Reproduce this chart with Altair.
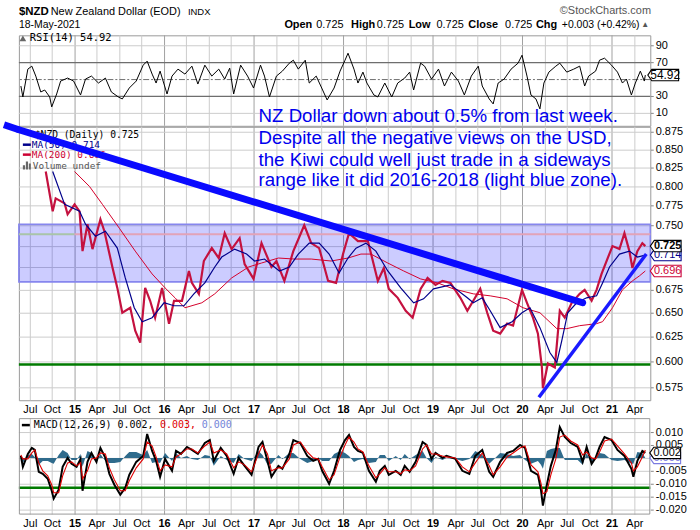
import altair as alt
import pandas as pd

# ---------------- values ----------------
x_ticks = [2014.5, 2014.75, 2015.0, 2015.25, 2015.5, 2015.75, 2016.0, 2016.25, 2016.5, 2016.75,
           2017.0, 2017.25, 2017.5, 2017.75, 2018.0, 2018.25, 2018.5, 2018.75, 2019.0, 2019.25,
           2019.5, 2019.75, 2020.0, 2020.25, 2020.5, 2020.75, 2021.0, 2021.25]
price_ticks = [0.575, 0.600, 0.625, 0.650, 0.675, 0.700, 0.725, 0.750, 0.775, 0.800, 0.825, 0.850, 0.875]
rsi_ticks = [10, 30, 50, 70, 90]
macd_ticks = [-0.020, -0.015, -0.010, -0.005, 0.000, 0.005, 0.010]

price_year = [2014.678, 2014.756, 2014.789, 2014.889, 2014.922, 2015.000, 2015.056, 2015.089, 2015.144, 2015.200,
              2015.289, 2015.333, 2015.422, 2015.478, 2015.533, 2015.622, 2015.678, 2015.733, 2015.789, 2015.844,
              2015.900, 2015.978, 2016.056, 2016.111, 2016.200, 2016.278, 2016.311, 2016.389, 2016.444, 2016.533,
              2016.611, 2016.678, 2016.756, 2016.844, 2016.900, 2017.000, 2017.089, 2017.200, 2017.256, 2017.344,
              2017.444, 2017.567, 2017.644, 2017.733, 2017.833, 2017.922, 2018.000, 2018.067, 2018.167, 2018.278,
              2018.389, 2018.456, 2018.511, 2018.611, 2018.700, 2018.778, 2018.867, 2018.944, 2019.033, 2019.111,
              2019.200, 2019.311, 2019.389, 2019.456, 2019.533, 2019.611, 2019.678, 2019.756, 2019.833, 2019.900,
              2020.000, 2020.056, 2020.122, 2020.178, 2020.222, 2020.233, 2020.289, 2020.367, 2020.422, 2020.478,
              2020.556, 2020.644, 2020.700, 2020.778, 2020.833, 2020.889, 2020.944, 2021.011, 2021.089, 2021.144,
              2021.200, 2021.233, 2021.289, 2021.344, 2021.376]
price_close = [0.820, 0.768, 0.784, 0.778, 0.764, 0.777, 0.768, 0.719, 0.752, 0.722,
               0.758, 0.743, 0.700, 0.677, 0.650, 0.655, 0.631, 0.619, 0.677, 0.663,
               0.645, 0.677, 0.638, 0.663, 0.663, 0.696, 0.682, 0.670, 0.708, 0.723,
               0.711, 0.741, 0.721, 0.735, 0.704, 0.687, 0.729, 0.700, 0.708, 0.685,
               0.719, 0.750, 0.728, 0.723, 0.685, 0.683, 0.716, 0.740, 0.731, 0.731,
               0.685, 0.699, 0.676, 0.666, 0.652, 0.645, 0.676, 0.688, 0.680, 0.685,
               0.683, 0.666, 0.652, 0.663, 0.676, 0.650, 0.631, 0.628, 0.638, 0.636,
               0.675, 0.661, 0.645, 0.628, 0.594, 0.574, 0.598, 0.594, 0.652, 0.645,
               0.660, 0.670, 0.675, 0.663, 0.675, 0.693, 0.708, 0.725, 0.722, 0.740,
               0.719, 0.699, 0.719, 0.728, 0.725]

ma50_year = [2014.756, 2014.889, 2015.056, 2015.122, 2015.233, 2015.344, 2015.478, 2015.567, 2015.667, 2015.756,
             2015.867, 2016.000, 2016.111, 2016.222, 2016.333, 2016.456, 2016.567, 2016.644, 2016.789, 2016.922,
             2017.011, 2017.122, 2017.289, 2017.400, 2017.500, 2017.622, 2017.733, 2017.844, 2017.956, 2018.056,
             2018.144, 2018.256, 2018.367, 2018.500, 2018.644, 2018.789, 2018.900, 2019.011, 2019.200, 2019.389,
             2019.456, 2019.556, 2019.644, 2019.756, 2019.889, 2020.000, 2020.089, 2020.200, 2020.311, 2020.389,
             2020.444, 2020.511, 2020.611, 2020.722, 2020.833, 2020.900, 2020.978, 2021.089, 2021.200, 2021.289,
             2021.376]
ma50_val = [0.820, 0.777, 0.768, 0.752, 0.737, 0.743, 0.723, 0.688, 0.655, 0.640,
            0.645, 0.661, 0.657, 0.657, 0.670, 0.683, 0.700, 0.712, 0.722, 0.716,
            0.708, 0.710, 0.696, 0.700, 0.716, 0.729, 0.729, 0.716, 0.694, 0.711,
            0.723, 0.729, 0.719, 0.696, 0.677, 0.660, 0.665, 0.676, 0.680, 0.666,
            0.661, 0.666, 0.652, 0.634, 0.640, 0.650, 0.655, 0.634, 0.609, 0.599,
            0.621, 0.650, 0.660, 0.666, 0.668, 0.682, 0.700, 0.716, 0.719, 0.712,
            0.714]

ma200_year = [2015.000, 2015.167, 2015.311, 2015.500, 2015.678, 2015.867, 2016.011, 2016.122, 2016.233, 2016.422,
              2016.567, 2016.756, 2016.944, 2017.089, 2017.278, 2017.456, 2017.644, 2017.867, 2018.056, 2018.200,
              2018.311, 2018.500, 2018.678, 2018.867, 2019.056, 2019.233, 2019.456, 2019.644, 2019.833, 2020.011,
              2020.200, 2020.389, 2020.500, 2020.644, 2020.833, 2020.900, 2021.011, 2021.122, 2021.233, 2021.311,
              2021.376]
ma200_val = [0.820, 0.800, 0.777, 0.747, 0.719, 0.693, 0.677, 0.666, 0.655, 0.661,
             0.670, 0.688, 0.700, 0.705, 0.711, 0.710, 0.710, 0.708, 0.711, 0.716,
             0.716, 0.705, 0.696, 0.687, 0.682, 0.676, 0.670, 0.668, 0.665, 0.655,
             0.650, 0.633, 0.633, 0.636, 0.638, 0.640, 0.655, 0.675, 0.685, 0.690,
             0.696]

rsi_year = [2014.398, 2014.423, 2014.473, 2014.522, 2014.572, 2014.622, 2014.671, 2014.721, 2014.746, 2014.795,
            2014.845, 2014.919, 2014.994, 2015.068, 2015.118, 2015.192, 2015.266, 2015.341, 2015.415, 2015.490,
            2015.539, 2015.614, 2015.688, 2015.763, 2015.812, 2015.862, 2015.911, 2015.961, 2016.035, 2016.085,
            2016.159, 2016.234, 2016.308, 2016.383, 2016.457, 2016.531, 2016.606, 2016.680, 2016.730, 2016.779,
            2016.854, 2016.928, 2017.003, 2017.077, 2017.127, 2017.176, 2017.251, 2017.325, 2017.399, 2017.449,
            2017.499, 2017.573, 2017.623, 2017.697, 2017.771, 2017.821, 2017.895, 2017.970, 2018.019, 2018.059,
            2018.119, 2018.168, 2018.218, 2018.267, 2018.342, 2018.391, 2018.466, 2018.540, 2018.615, 2018.689,
            2018.739, 2018.788, 2018.863, 2018.912, 2018.987, 2019.061, 2019.136, 2019.210, 2019.284, 2019.359,
            2019.433, 2019.508, 2019.557, 2019.632, 2019.681, 2019.731, 2019.805, 2019.880, 2019.954, 2020.004,
            2020.053, 2020.103, 2020.152, 2020.202, 2020.242, 2020.301, 2020.376, 2020.425, 2020.499, 2020.574,
            2020.648, 2020.698, 2020.747, 2020.822, 2020.871, 2020.921, 2020.996, 2021.070, 2021.119, 2021.169,
            2021.219, 2021.268, 2021.318, 2021.367, 2021.376]
rsi_val = [42, 29, 62, 65, 54, 35, 37, 29, 17, 33,
           48, 52, 48, 31, 50, 54, 46, 52, 35, 29,
           27, 40, 48, 67, 71, 56, 46, 60, 33, 54,
           62, 56, 65, 44, 67, 54, 62, 50, 63, 33,
           67, 54, 40, 67, 54, 29, 54, 60, 69, 73,
           62, 73, 46, 54, 38, 25, 40, 60, 73, 81,
           62, 46, 58, 46, 31, 29, 46, 29, 46, 52,
           58, 37, 69, 65, 50, 62, 42, 58, 48, 31,
           54, 65, 42, 27, 21, 46, 50, 62, 69, 79,
           54, 31, 27, 15, 46, 58, 65, 69, 58, 62,
           65, 42, 54, 60, 73, 75, 67, 58, 46, 50,
           31, 46, 60, 48, 54.92]

macd_year = [2014.398, 2014.423, 2014.473, 2014.522, 2014.557, 2014.597, 2014.646, 2014.696, 2014.746, 2014.770,
             2014.820, 2014.870, 2014.919, 2014.969, 2015.018, 2015.068, 2015.093, 2015.142, 2015.192, 2015.242,
             2015.291, 2015.341, 2015.390, 2015.440, 2015.514, 2015.564, 2015.614, 2015.688, 2015.763, 2015.812,
             2015.862, 2015.911, 2015.961, 2016.010, 2016.085, 2016.135, 2016.184, 2016.259, 2016.308, 2016.383,
             2016.457, 2016.507, 2016.556, 2016.631, 2016.705, 2016.779, 2016.829, 2016.903, 2016.978, 2017.052,
             2017.102, 2017.151, 2017.201, 2017.275, 2017.325, 2017.399, 2017.449, 2017.523, 2017.598, 2017.672,
             2017.722, 2017.771, 2017.846, 2017.895, 2017.970, 2018.019, 2018.069, 2018.119, 2018.168, 2018.218,
             2018.292, 2018.367, 2018.416, 2018.466, 2018.515, 2018.590, 2018.640, 2018.689, 2018.739, 2018.813,
             2018.888, 2018.937, 2018.987, 2019.036, 2019.111, 2019.160, 2019.260, 2019.334, 2019.408, 2019.483,
             2019.557, 2019.632, 2019.681, 2019.756, 2019.830, 2019.904, 2019.979, 2020.028, 2020.103, 2020.177,
             2020.212, 2020.237, 2020.276, 2020.326, 2020.376, 2020.425, 2020.475, 2020.549, 2020.624, 2020.673,
             2020.723, 2020.772, 2020.822, 2020.871, 2020.921, 2020.996, 2021.070, 2021.144, 2021.219, 2021.244,
             2021.293, 2021.343, 2021.376]
macd_line = [0.0007, -0.0036, 0.0014, 0.0038, 0.0032, -0.0054, -0.0060, -0.0079, -0.0128, -0.0159,
             -0.0122, -0.0036, 0.0001, -0.0023, -0.0036, -0.0005, -0.0128, -0.0017, 0.0020, -0.0017,
             0.0038, 0.0001, -0.0060, -0.0104, -0.0141, -0.0116, -0.0067, -0.0017, 0.0007, 0.0094,
             0.0026, -0.0011, -0.0073, -0.0005, -0.0048, 0.0026, 0.0014, 0.0044, 0.0032, 0.0014,
             0.0057, 0.0069, -0.0011, 0.0038, 0.0007, -0.0060, 0.0001, -0.0030, -0.0067, 0.0044,
             0.0063, -0.0011, -0.0073, -0.0030, -0.0042, 0.0014, 0.0069, 0.0057, 0.0007, -0.0011,
             -0.0005, -0.0048, -0.0098, -0.0048, 0.0032, 0.0069, 0.0088, 0.0044, 0.0026, 0.0020,
             -0.0048, -0.0091, -0.0048, -0.0030, -0.0067, -0.0048, -0.0067, -0.0030, -0.0054, -0.0017,
             0.0063, 0.0051, -0.0005, 0.0020, 0.0001, 0.0007, -0.0005, -0.0048, -0.0060, 0.0007,
             0.0032, -0.0054, -0.0073, -0.0017, 0.0020, 0.0026, 0.0051, 0.0038, -0.0048, -0.0067,
             -0.0122, -0.0184, -0.0104, -0.0030, 0.0032, 0.0119, 0.0081, 0.0057, 0.0044, -0.0017,
             0.0044, -0.0023, 0.0001, 0.0044, 0.0081, 0.0069, 0.0032, 0.0007, -0.0042, -0.0073,
             -0.0011, 0.0026, 0.0020]
macd_signal = [0.0010, -0.0005, -0.0005, 0.0020, 0.0030, -0.0020, -0.0050, -0.0068, -0.0105, -0.0135,
               -0.0135, -0.0070, -0.0020, -0.0015, -0.0030, -0.0020, -0.0080, -0.0050, -0.0005, 0.0000,
               0.0020, 0.0015, -0.0040, -0.0085, -0.0125, -0.0125, -0.0090, -0.0040, -0.0005, 0.0060,
               0.0045, 0.0005, -0.0050, -0.0025, -0.0035, 0.0005, 0.0015, 0.0035, 0.0035, 0.0020,
               0.0045, 0.0060, 0.0020, 0.0030, 0.0015, -0.0040, -0.0015, -0.0025, -0.0055, 0.0015,
               0.0050, 0.0015, -0.0050, -0.0040, -0.0040, -0.0005, 0.0050, 0.0060, 0.0025, 0.0000,
               -0.0005, -0.0035, -0.0085, -0.0065, 0.0005, 0.0050, 0.0080, 0.0060, 0.0035, 0.0025,
               -0.0030, -0.0075, -0.0060, -0.0040, -0.0055, -0.0055, -0.0060, -0.0045, -0.0050, -0.0030,
               0.0035, 0.0050, 0.0015, 0.0015, 0.0008, 0.0005, 0.0000, -0.0035, -0.0055, -0.0020,
               0.0020, -0.0030, -0.0065, -0.0035, 0.0005, 0.0020, 0.0040, 0.0045, -0.0025, -0.0055,
               -0.0095, -0.0140, -0.0130, -0.0065, -0.0005, 0.0080, 0.0090, 0.0065, 0.0050, 0.0010,
               0.0025, 0.0000, -0.0005, 0.0025, 0.0065, 0.0075, 0.0045, 0.0015, -0.0020, -0.0050,
               -0.0035, 0.0005, 0.0030]
macd_hist = [-0.0003, -0.0020, 0.0012, 0.0015, 0.0003, -0.0025, -0.0010, -0.0010, -0.0020, -0.0022,
             0.0012, 0.0030, 0.0018, -0.0008, -0.0006, 0.0015, -0.0035, 0.0028, 0.0020, -0.0015,
             0.0016, -0.0012, -0.0020, -0.0018, -0.0015, 0.0008, 0.0022, 0.0022, 0.0012, 0.0030,
             -0.0018, -0.0015, -0.0020, 0.0020, -0.0012, 0.0020, -0.0001, 0.0009, -0.0003, -0.0006,
             0.0012, 0.0009, -0.0030, 0.0008, -0.0008, -0.0020, 0.0015, -0.0005, -0.0012, 0.0028,
             0.0013, -0.0025, -0.0022, 0.0010, -0.0002, 0.0018, 0.0019, -0.0003, -0.0018, -0.0011,
             0.0000, -0.0013, -0.0013, 0.0017, 0.0027, 0.0019, 0.0008, -0.0016, -0.0009, -0.0005,
             -0.0018, -0.0016, 0.0012, 0.0010, -0.0012, 0.0007, -0.0007, 0.0015, -0.0004, 0.0013,
             0.0028, 0.0001, -0.0020, 0.0005, -0.0007, 0.0002, -0.0005, -0.0013, -0.0005, 0.0027,
             0.0012, -0.0024, -0.0008, 0.0018, 0.0015, 0.0006, 0.0011, -0.0007, -0.0023, -0.0012,
             -0.0027, -0.0044, 0.0026, 0.0035, 0.0037, 0.0039, -0.0009, -0.0008, -0.0006, -0.0027,
             0.0019, -0.0023, 0.0006, 0.0019, 0.0016, -0.0006, -0.0013, -0.0008, -0.0022, -0.0023,
             0.0024, 0.0021, 0.0000]

zone_low, zone_high = 0.684, 0.752
level_2016 = 0.7395
support_price = 0.597
support_macd = -0.0114
rsi_bands = [30, 70]
rsi_mid = [50]
downtrend_year = [2014.378, 2020.678]
downtrend_price = [0.878, 0.660]
downtrend_offchart_price = 0.885   # where the line enters at the left picture edge
uptrend_year = [2020.189, 2021.389]
uptrend_price = [0.5656, 0.7157]

last_close, last_ma50, last_ma200 = 0.725, 0.714, 0.696
last_rsi = 54.92
last_macd, last_signal, last_hist = 0.002, 0.003, 0.000

note_lines = ["NZ Dollar down about 0.5% from last week.",
              "Despite all the negative views on the USD,",
              "the Kiwi could well just trade in a sideways",
              "range like it did 2016-2018 (light blue zone)."]

# ---------------- layout / style ----------------
W = 635
H_RSI, H_PRICE, H_MACD, MACD_TOP = 91, 275, 114, 17
GRID, YEARGRID, BORDER = "#cccccc", "#a0a0a0", "#999999"
LABEL_FONT = "Liberation Sans"
MONO = "DejaVu Sans Mono"
BOX = "M -1 0 L -0.74 -0.37 L 1 -0.37 L 1 0.37 L -0.74 0.37 Z"
X_MIN, X_MAX = 2014.378, 2021.433

# round=True snaps positions to whole pixels so 1px gridlines (offset by 0.5) are crisp
xs = alt.Scale(domain=[X_MIN, X_MAX], nice=False, zero=False, round=True)
ys_rsi = alt.Scale(domain=[-5, 102], nice=False, zero=False, round=True)
ys_price = alt.Scale(type="log", domain=[0.5628, 0.882], nice=False, round=True)
ys_macd = alt.Scale(domain=[-0.0219, 0.0154], range=[H_MACD, MACD_TOP], nice=False, zero=False, round=True)
grid_colors = alt.Scale(domain=["q", "y"], range=[GRID, YEARGRID])

LABEL_EXPR = ("datum.value % 1 == 0 ? format(datum.value % 100, '02d') : "
              "(datum.value % 1 == 0.25 ? 'Apr' : (datum.value % 1 == 0.5 ? 'Jul' : 'Oct'))")
YEAR_TEST = "datum.value % 1 == 0"


def x_axis(labels):
    return alt.Axis(values=x_ticks, grid=False, ticks=False, domain=False, labels=labels, labelExpr=LABEL_EXPR,
                    labelFontWeight={"condition": {"test": YEAR_TEST, "value": "bold"}, "value": "normal"},
                    labelOverlap=False, labelFlush=False, labelPadding=3, labelFontSize=11,
                    labelFont=LABEL_FONT, labelColor="#000", title=None)


def y_axis(values, fmt=None, expr=None):
    kw = dict(orient="right", values=values, grid=False, ticks=True, tickSize=3,
              tickColor="#888", domain=False, labelPadding=2, labelFont=LABEL_FONT, labelFontSize=11,
              labelColor="#000", labelOverlap=False, title=None)
    if fmt:
        kw["format"] = fmt
    if expr:
        kw["labelExpr"] = expr
    return alt.Axis(**kw)


# labels hidden under the last-value boxes are left out of the axis, gridlines keep all ticks
AX_RSI_X = x_axis(False)
AX_RSI_Y = y_axis([v for v in rsi_ticks if v != 50])
AX_PRICE_X = x_axis(True)
AX_PRICE_Y = y_axis([v for v in price_ticks if v not in (0.700, 0.725)], fmt=".3f")
AX_MACD_X = x_axis(True)
AX_MACD_Y = y_axis([v for v in macd_ticks if v != 0.0],
                   expr="replace(format(datum.value, '.3f'), '\u2212', '-')")

one = pd.DataFrame({"k": [0]})
vgrid_df = pd.DataFrame({"gx": x_ticks, "gk": ["y" if v % 1 == 0 else "q" for v in x_ticks]})


def txt(s, x, y, size=11, color="#000", weight="normal", font=LABEL_FONT, align="left", baseline="alphabetic"):
    return alt.Chart(one).mark_text(text=s, align=align, baseline=baseline, fontSize=size, font=font,
                                    fontWeight=weight, color=color).encode(x=alt.value(x), y=alt.value(y))


def vbox(scale, axis, value, label, color, xc, bold=False, size=11):
    d = pd.DataFrame({"v": [value]})
    yy = alt.Y("v:Q", scale=scale, axis=axis)
    shape = alt.Chart(d).mark_point(shape=BOX, size=961, filled=True, fill="white", stroke=color,
                                    strokeWidth=1.1, opacity=1).encode(x=alt.value(xc), y=yy)
    label_mark = alt.Chart(d).mark_text(text=label, align="center", baseline="middle", dx=2, fontSize=size,
                                        font=LABEL_FONT, fontWeight="bold" if bold else "normal",
                                        color=color).encode(x=alt.value(xc), y=yy)
    return shape + label_mark


def dash(x1, x2, y, color, width=2.5):
    return alt.Chart(one).mark_rule(color=color, strokeWidth=width).encode(
        x=alt.value(x1), x2=alt.value(x2), y=alt.value(y), y2=alt.value(y))


def grids(xax, yscale, yax, yvals, y_top, y_bottom):
    """vertical quarter/year gridlines and horizontal tick gridlines (pixel-aligned)"""
    vert = alt.Chart(vgrid_df).mark_rule(strokeWidth=1, xOffset=0.5).encode(
        x=alt.X("gx:Q", scale=xs, axis=xax), y=alt.value(y_top), y2=alt.value(y_bottom),
        color=alt.Color("gk:N", scale=grid_colors, legend=None))
    hdf = pd.DataFrame({"gy": yvals, "gk": ["q"] * len(yvals)})
    horiz = alt.Chart(hdf).mark_rule(strokeWidth=1, yOffset=0.5).encode(
        y=alt.Y("gy:Q", scale=yscale, axis=yax), x=alt.value(0), x2=alt.value(W),
        color=alt.Color("gk:N", scale=grid_colors, legend=None))
    return [vert, horiz]


# ---------------- RSI panel ----------------
rsi_df = pd.DataFrame({"t": rsi_year, "v": rsi_val})
rsi_bands_l = alt.Chart(pd.DataFrame({"v": rsi_bands})).mark_rule(
    color="#6e6e6e", strokeWidth=1.3, yOffset=0.5).encode(y=alt.Y("v:Q", scale=ys_rsi, axis=AX_RSI_Y))
rsi_mid_l = alt.Chart(pd.DataFrame({"v": rsi_mid})).mark_rule(
    color="#6e6e6e", strokeWidth=1, strokeDash=[6, 2, 2, 2], yOffset=0.5).encode(
    y=alt.Y("v:Q", scale=ys_rsi, axis=AX_RSI_Y))
rsi_line_l = alt.Chart(rsi_df).mark_line(color="black", strokeWidth=1).encode(
    x=alt.X("t:Q", scale=xs, axis=AX_RSI_X),
    y=alt.Y("v:Q", scale=ys_rsi, axis=AX_RSI_Y))
bounds_l = alt.Chart(one).mark_rect(opacity=0).encode(
    x=alt.value(-16), x2=alt.value(684), y=alt.value(-33), y2=alt.value(497))
rsi_icon = alt.Chart(one).mark_point(shape="triangle-up", filled=True, color="#666", size=45, opacity=1).encode(
    x=alt.value(4), y=alt.value(3))

header = [
    txt("$NZD", 0, -20, size=11.5, weight="bold"),
    txt("New Zealand Dollar (EOD)", 32, -20, size=11),
    txt("INDX", 170, -20, size=9.5),
    txt("18-May-2021", 0, -7, size=10.5),
    txt("\u00a9StockCharts.com", 544, -21, size=11, color="#555"),
    txt("Open", 267, -7, weight="bold"), txt(f"{last_close:.3f}", 299, -7),
    txt("High", 334, -7, weight="bold"), txt(f"{last_close:.3f}", 360, -7),
    txt("Low", 392, -7, weight="bold"), txt(f"{last_close:.3f}", 420, -7),
    txt("Close", 452, -7, weight="bold"), txt(f"{last_close:.3f}", 489, -7),
    txt("Chg", 520, -7, weight="bold"), txt("+0.003 (+0.42%)", 546, -7, size=10.5),
    txt("\u25b2", 626, -8, size=8, color="#555"),
]

rsi_chart = alt.layer(
    *grids(AX_RSI_X, ys_rsi, AX_RSI_Y, [10, 90], 0, H_RSI),
    rsi_bands_l, rsi_mid_l, rsi_line_l, rsi_icon,
    txt(f"RSI(14) {last_rsi:.2f}", 11, 3, size=10.5, font=MONO, baseline="middle"),
    *header,
    vbox(ys_rsi, AX_RSI_Y, last_rsi, f"{last_rsi:.2f}", "#000", 648, size=12),
    bounds_l,
).properties(width=W, height=H_RSI)

# ---------------- price panel ----------------
price_df = pd.DataFrame({"t": price_year, "p": price_close})
ma50_df = pd.DataFrame({"t": ma50_year, "p": ma50_val})
ma200_df = pd.DataFrame({"t": ma200_year, "p": ma200_val})


def px(field):
    return alt.X(field, scale=xs, axis=AX_PRICE_X)


def py(field):
    return alt.Y(field, scale=ys_price, axis=AX_PRICE_Y)


zone_l = alt.Chart(pd.DataFrame({"lo": [zone_low], "hi": [zone_high]})).mark_rect(
    fill="#0000ff", fillOpacity=0.2, stroke="#8686ee", strokeWidth=1.6).encode(
    x=alt.value(0), x2=alt.value(W), y=py("lo:Q"), y2="hi:Q")
lvl_green = alt.Chart(pd.DataFrame({"a": [X_MIN], "b": [2015.0], "v": [level_2016]})).mark_rule(
    color="#a9c4a9", strokeWidth=2).encode(x=px("a:Q"), x2="b:Q", y=py("v:Q"))
lvl_pink = alt.Chart(pd.DataFrame({"a": [2015.0], "b": [X_MAX], "v": [level_2016]})).mark_rule(
    color="#e2a3b8", strokeWidth=2).encode(x=px("a:Q"), x2="b:Q", y=py("v:Q"))
sup_l = alt.Chart(pd.DataFrame({"v": [support_price]})).mark_rule(color="#007a00", strokeWidth=2.5).encode(
    y=py("v:Q"))
price_l = alt.Chart(price_df).mark_line(color="#c4113f", strokeWidth=2.2).encode(x=px("t:Q"), y=py("p:Q"))
ma200_l = alt.Chart(ma200_df).mark_line(color="#d4002a", strokeWidth=1).encode(x=px("t:Q"), y=py("p:Q"))
ma50_l = alt.Chart(ma50_df).mark_line(color="#00008b", strokeWidth=1.2).encode(x=px("t:Q"), y=py("p:Q"))
down_l = alt.Chart(pd.DataFrame({"t": downtrend_year, "p": downtrend_price})).mark_line(
    color="#0a0aff", strokeWidth=7, strokeCap="round", clip=False).encode(x=px("t:Q"), y=py("p:Q"))
down_stub = alt.Chart(pd.DataFrame({"a": [downtrend_offchart_price], "b": [downtrend_price[0]]})).mark_rule(
    color="#0a0aff", strokeWidth=7, clip=False).encode(
    x=alt.value(-15), x2=alt.value(0), y=py("a:Q"), y2="b:Q")
up_l = alt.Chart(pd.DataFrame({"t": uptrend_year, "p": uptrend_price})).mark_line(
    color="#1a1aff", strokeWidth=3.5, clip=False).encode(x=px("t:Q"), y=py("p:Q"))

VOL_ICON = "M -1 1 L -1 -0.1 L -0.45 -0.1 L -0.45 1 Z M -0.25 1 L -0.25 -1 L 0.3 -1 L 0.3 1 Z M 0.5 1 L 0.5 -0.5 L 1 -0.5 L 1 1 Z"
legend_price = [
    txt(f"$NZD (Daily) {last_close:.3f}", 16, 8, size=9.7, font=MONO, baseline="middle"),
    dash(4, 12, 18, "#00008b"),
    txt(f"MA(50) {last_ma50:.3f}", 13, 18, size=9.5, font=MONO, color="#00008b", baseline="middle"),
    dash(4, 12, 28, "#cc0033"),
    txt(f"MA(200) {last_ma200:.3f}", 13, 28, size=9.5, font=MONO, color="#cc0033", baseline="middle"),
    alt.Chart(one).mark_point(shape=VOL_ICON, size=64, filled=True, color="#666", opacity=1).encode(
        x=alt.value(8), y=alt.value(39)),
    txt("Volume undef", 14, 39, size=9.5, font=MONO, color="#555", baseline="middle"),
]
notes = [txt(s, 241, yb, size=18.8, color="#0000ee") for s, yb in zip(note_lines, [-5, 17, 39, 60])]

price_chart = alt.layer(
    *grids(AX_PRICE_X, ys_price, AX_PRICE_Y, price_ticks, 0, H_PRICE),
    zone_l, lvl_green, lvl_pink, sup_l, price_l, ma200_l, ma50_l, *legend_price,
    down_stub, down_l, up_l, *notes,
    vbox(ys_price, AX_PRICE_Y, last_ma200, f"{last_ma200:.3f}", "#cc0033", 650.5),
    vbox(ys_price, AX_PRICE_Y, last_ma50, f"{last_ma50:.3f}", "#00008b", 650.5),
    vbox(ys_price, AX_PRICE_Y, last_close, f"{last_close:.3f}", "#000", 650.5, bold=True),
).properties(width=W, height=H_PRICE)

# ---------------- MACD panel ----------------
macd_df = pd.DataFrame({"t": macd_year, "m": macd_line, "s": macd_signal, "h": macd_hist})


def mx(field):
    return alt.X(field, scale=xs, axis=AX_MACD_X)


def my(field):
    return alt.Y(field, scale=ys_macd, axis=AX_MACD_Y)


hist_l = alt.Chart(macd_df).mark_area(color="#2f6b8c", opacity=1).encode(
    x=mx("t:Q"), y=my("h:Q"), y2=alt.datum(0))
msup_l = alt.Chart(pd.DataFrame({"v": [support_macd]})).mark_rule(color="#007a00", strokeWidth=2.5).encode(
    y=my("v:Q"))
mline_l = alt.Chart(macd_df).mark_line(color="black", strokeWidth=2).encode(x=mx("t:Q"), y=my("m:Q"))
sline_l = alt.Chart(macd_df).mark_line(color="#e00000", strokeWidth=1.1).encode(x=mx("t:Q"), y=my("s:Q"))
border_l = alt.Chart(one).mark_rect(fillOpacity=0, stroke=BORDER, strokeWidth=1).encode(
    x=alt.value(0.5), x2=alt.value(W - 0.5), y=alt.value(MACD_TOP + 0.5), y2=alt.value(H_MACD - 0.5))
legend_macd = [
    dash(3, 11, 24, "#000", 2.5),
    txt(f"MACD(12,26,9) {last_macd:.3f},", 15, 24, size=10, font=MONO, baseline="middle"),
    txt(f"{last_signal:.3f},", 142, 24, size=10, font=MONO, color="#e00000", baseline="middle"),
    txt(f"{last_hist:.3f}", 184, 24, size=10, font=MONO, color="#7384d8", baseline="middle"),
]
macd_chart = alt.layer(
    *grids(AX_MACD_X, ys_macd, AX_MACD_Y, macd_ticks, MACD_TOP, H_MACD),
    hist_l, msup_l, mline_l, sline_l, border_l, *legend_macd,
    vbox(ys_macd, AX_MACD_Y, last_hist, f"{last_hist:.3f}", "#7b7be0", 650),
    vbox(ys_macd, AX_MACD_Y, last_macd, f"{last_macd:.3f}", "#000", 650),
).properties(width=W, height=H_MACD, view=alt.ViewBackground(stroke="transparent"))

chart = alt.vconcat(rsi_chart, price_chart, macd_chart, spacing=1, bounds="flush").properties(
    padding=0, background="white"
).configure_view(stroke=BORDER, strokeWidth=1)

chart.save("out.html", embed_options={"renderer": "svg", "actions": False})
